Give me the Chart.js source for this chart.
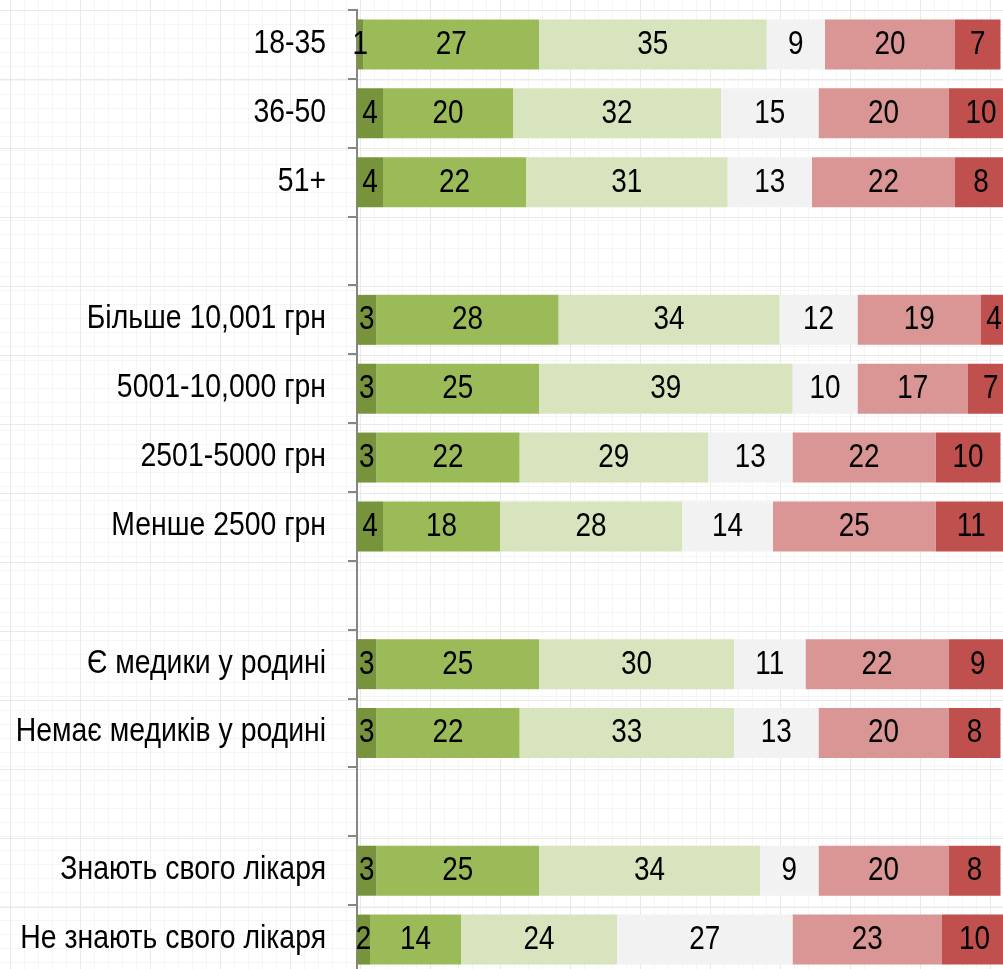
<!DOCTYPE html>
<html>
<head>
<meta charset="utf-8">
<script src="https://cdn.jsdelivr.net/npm/chart.js@4/dist/chart.umd.min.js"></script>
<style>
    html, body {
        margin: 0;
        padding: 0;
        overflow: hidden;
        background-color: #ffffff;
        background-image:
            linear-gradient(to right, #e9e9e9 1px, transparent 1px),
            linear-gradient(to bottom, #e9e9e9 1px, transparent 1px),
            linear-gradient(to right, #f5f5f5 1px, transparent 1px),
            linear-gradient(to bottom, #f5f5f5 1px, transparent 1px);
        background-size: 70px 69px, 70px 69px, 14px 14px, 14px 14px;
        background-position: 10px 10px, 10px 10px, 10px 10px, 10px 10px;
    }
    #wrap {
        position: relative;
        width: 1010px;
        height: 975px;
    }
</style>
</head>
<body>
<div id="wrap"><canvas id="chart" width="1010" height="975"></canvas></div>
<script>
    // no narrow font installed, so Liberation Sans gets squeezed sideways
    const FONT = '34px "Liberation Sans", Arial, sans-serif';
    const LABEL_SQUEEZE = 0.835;
    const VALUE_SQUEEZE = 0.82;

    // rows, top to bottom; empty strings are the spacer rows
    const categories = [
        '18-35', '36-50', '51+', '',
        'Більше 10,001 грн', '5001-10,000 грн', '2501-5000 грн', 'Менше 2500 грн', '',
        'Є медики у родині', 'Немає медиків у родині', '',
        'Знають свого лікаря', 'Не знають свого лікаря',
    ];

    const seriesA = [1, 4, 4, null, 3, 3, 3, 4, null, 3, 3, null, 3, 2];
    const seriesB = [27, 20, 22, null, 28, 25, 22, 18, null, 25, 22, null, 25, 14];
    const seriesC = [35, 32, 31, null, 34, 39, 29, 28, null, 30, 33, null, 34, 24];
    const seriesD = [9, 15, 13, null, 12, 10, 13, 14, null, 11, 13, null, 9, 27];
    const seriesE = [20, 20, 22, null, 19, 17, 22, 25, null, 22, 20, null, 20, 23];
    const seriesF = [7, 10, 8, null, 4, 7, 10, 11, null, 9, 8, null, 8, 10];

    const seriesColors = ['#77933c', '#9bbb59', '#d7e4bd', '#f2f2f2', '#d99694', '#c0504d'];

    function drawSqueezed(ctx, text, x, y, align, squeeze) {
        ctx.save();
        ctx.translate(x, y);
        ctx.scale(squeeze, 1);
        ctx.textAlign = align;
        ctx.fillText(text, 0, 0);
        ctx.restore();
    }

    const textLayer = {
        id: 'textLayer',
        afterDraw(chart) {
            const { ctx } = chart;
            const yScale = chart.scales.y;
            ctx.save();
            ctx.font = FONT;
            ctx.fillStyle = '#000000';
            ctx.textBaseline = 'middle';

            // category labels, right aligned left of the axis
            categories.forEach((label, i) => {
                if (!label) return;
                drawSqueezed(ctx, label, yScale.right - 31, yScale.getPixelForTick(i) - 1, 'right', LABEL_SQUEEZE);
            });

            // values in the middle of each segment
            chart.data.datasets.forEach((ds, i) => {
                const meta = chart.getDatasetMeta(i);
                meta.data.forEach((bar, j) => {
                    const v = ds.data[j];
                    if (v === null || v === undefined) return;
                    drawSqueezed(ctx, String(Math.round(v)), (bar.x + bar.base) / 2, bar.y, 'center', VALUE_SQUEEZE);
                });
            });
            ctx.restore();
        }
    };

    const datasets = [seriesA, seriesB, seriesC, seriesD, seriesE, seriesF].map((data, i) => ({
        data,
        backgroundColor: seriesColors[i],
        borderWidth: 0,
        barPercentage: 0.726,
        categoryPercentage: 1,
    }));

    new Chart(document.getElementById('chart'), {
        type: 'bar',
        data: { labels: categories, datasets },
        options: {
            indexAxis: 'y',
            responsive: false,
            animation: false,
            layout: { padding: { top: 10, bottom: 1, right: 3, left: 0 } },
            plugins: {
                legend: { display: false },
                tooltip: { enabled: false },
            },
            scales: {
                x: {
                    stacked: true,
                    display: false,
                    min: 0,
                    max: 100,
                },
                y: {
                    stacked: true,
                    afterFit(scale) {
                        scale.width = 357;
                        scale.paddingTop = 0;
                        scale.paddingBottom = 0;
                    },
                    border: { color: '#868686', width: 2 },
                    grid: {
                        offset: true,
                        drawOnChartArea: false,
                        color: '#868686',
                        lineWidth: 2,
                        tickLength: 9,
                    },
                    ticks: { display: false },
                },
            },
        },
        plugins: [textLayer],
    });
</script>
</body>
</html>
